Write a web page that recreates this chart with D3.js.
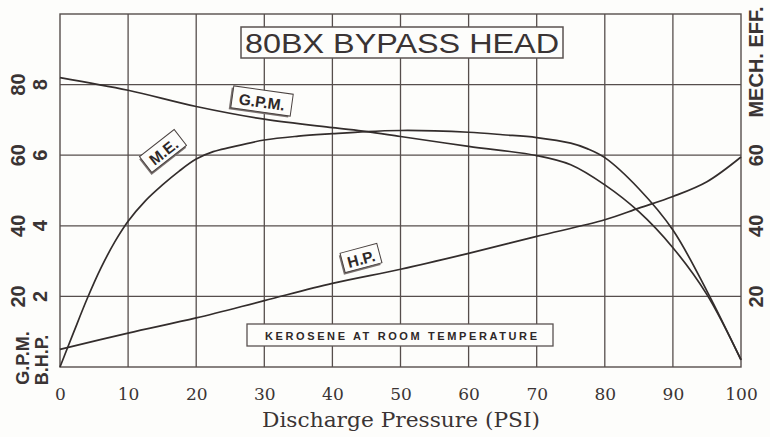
<!DOCTYPE html>
<html>
<head>
<meta charset="utf-8">
<script src="https://cdn.jsdelivr.net/npm/d3@7"></script>
<style>
  html, body { margin: 0; padding: 0; background: #fdfdfb; }
  svg { display: block; }
</style>
</head>
<body>
<script>
// ---------- data ----------
const xTicks = [0, 10, 20, 30, 40, 50, 60, 70, 80, 90, 100];
const leftOuterTicks = [20, 40, 60, 80];   // M.E. scale shown at left
const leftInnerTicks = [2, 4, 6, 8];       // G.P.M. / B.H.P. scale
const rightTicks = [20, 40, 60];

const gpmX = [0, 10, 20, 30, 40, 45, 50, 60, 70, 75, 80, 85, 90, 95, 100];
const gpmY = [8.2, 7.84, 7.38, 7.02, 6.78, 6.67, 6.53, 6.25, 5.99, 5.73, 5.16, 4.4, 3.38, 2.05, 0.2];

const meX = [0, 2, 4, 6, 8, 10, 12.5, 15, 17.5, 20, 22.5, 25, 30, 35, 40, 45, 50, 55, 60, 65, 70, 75, 77.5, 80, 85, 90, 95, 100];
const meY = [0, 9.8, 19.4, 28, 35.3, 41.3, 47, 51.5, 55.5, 58.9, 61, 62.2, 64.3, 65.4, 66.1, 66.7, 67.0, 66.9, 66.5, 65.8, 65.0, 63.4, 61.8, 59.3, 50.5, 38.8, 21.5, 2];

const hpX = [0, 10, 20, 30, 40, 50, 60, 70, 80, 85, 90, 95, 100];
const hpY = [0.5, 0.96, 1.39, 1.88, 2.37, 2.77, 3.22, 3.70, 4.17, 4.5, 4.83, 5.25, 5.95];

const title = "80BX BYPASS HEAD";
const note = "KEROSENE AT ROOM TEMPERATURE";
const xTitle = "Discharge Pressure (PSI)";

// ---------- drawing ----------
const W = 770, H = 437;
const svg = d3.select("body").append("svg").attr("width", W).attr("height", H);

const x = d3.scaleLinear().domain([0, 100]).range([60, 741]);
const yPct = d3.scaleLinear().domain([0, 100]).range([367, 14]);
const yVal = d3.scaleLinear().domain([0, 10]).range([367, 14]);

const gridColor = "#564e4c";
const lineColor = "#332d2c";
const textColor = "#3a3434";

// grid
const g = svg.append("g");
g.selectAll(".vg").data(xTicks.slice(1, -1)).enter().append("line")
  .attr("x1", d => x(d)).attr("x2", d => x(d))
  .attr("y1", yPct(0)).attr("y2", yPct(100))
  .attr("stroke", gridColor).attr("stroke-width", 1.3);
g.selectAll(".hg").data(leftOuterTicks).enter().append("line")
  .attr("x1", x(0)).attr("x2", x(100))
  .attr("y1", d => yPct(d)).attr("y2", d => yPct(d))
  .attr("stroke", gridColor).attr("stroke-width", 1.3);
g.append("rect")
  .attr("x", x(0)).attr("y", yPct(100))
  .attr("width", x(100) - x(0)).attr("height", yPct(0) - yPct(100))
  .attr("fill", "none").attr("stroke", gridColor).attr("stroke-width", 1.4);

// bottom axis labels
const bottomAxis = d3.axisBottom(x).tickValues(xTicks).tickSize(0).tickPadding(0).tickFormat(d3.format("d"));
const ax = svg.append("g").attr("transform", `translate(0, ${yPct(0)})`).call(bottomAxis);
ax.select(".domain").remove();
ax.selectAll("text")
  .attr("y", 33).attr("dy", null)
  .attr("font-family", "'DejaVu Serif', serif")
  .attr("font-size", 17)
  .attr("fill", textColor);

svg.append("text")
  .attr("x", 401).attr("y", 427)
  .attr("text-anchor", "middle")
  .attr("font-family", "'DejaVu Serif', serif")
  .attr("font-size", 20)
  .attr("textLength", 278).attr("lengthAdjust", "spacingAndGlyphs")
  .attr("fill", textColor)
  .text(xTitle);

// rotated side labels
function rotText(sel, px, py, txt, size) {
  sel.append("text")
    .attr("transform", `translate(${px},${py}) rotate(-90)`)
    .attr("text-anchor", "middle")
    .attr("dominant-baseline", "central")
    .attr("font-family", "'Liberation Sans', Arial, sans-serif")
    .attr("font-weight", "bold")
    .attr("font-size", size)
    .attr("fill", textColor)
    .text(txt);
}
leftOuterTicks.forEach(d => rotText(svg, 18, yPct(d), d, 20));
leftInnerTicks.forEach(d => rotText(svg, 40, yVal(d), d, 20));
rotText(svg, 23, 358, "G.P.M.", 18);
rotText(svg, 42, 360, "B.H.P.", 18);
rightTicks.forEach(d => rotText(svg, 756, yPct(d), d, 20));
rotText(svg, 756, 62, "MECH. EFF.", 20);

// curves
const line = d3.line().curve(d3.curveCatmullRom.alpha(0.5));
function drawCurve(xs, ys, yScale) {
  svg.append("path")
    .attr("d", line(xs.map((v, i) => [x(v), yScale(ys[i])])))
    .attr("fill", "none")
    .attr("stroke", lineColor)
    .attr("stroke-width", 1.7);
}
drawCurve(gpmX, gpmY, yVal);
drawCurve(meX, meY, yPct);
drawCurve(hpX, hpY, yVal);

// title box
svg.append("rect")
  .attr("x", 241).attr("y", 27).attr("width", 322).attr("height", 31)
  .attr("fill", "#fdfdfb").attr("stroke", "#5a5250").attr("stroke-width", 1.5);
svg.append("text")
  .attr("x", 402).attr("y", 53)
  .attr("text-anchor", "middle")
  .attr("font-family", "'Liberation Sans', Arial, sans-serif")
  .attr("font-size", 28)
  .attr("textLength", 314).attr("lengthAdjust", "spacingAndGlyphs")
  .attr("fill", "#3a3434")
  .text(title);

// note box
svg.append("rect")
  .attr("x", 247).attr("y", 324).attr("width", 306).attr("height", 22)
  .attr("fill", "#fdfdfb").attr("stroke", "#5a5250").attr("stroke-width", 1.3);
svg.append("text")
  .attr("x", 401).attr("y", 340)
  .attr("text-anchor", "middle")
  .attr("font-family", "'Liberation Sans', Arial, sans-serif")
  .attr("font-weight", "bold")
  .attr("font-size", 11)
  .attr("textLength", 272).attr("lengthAdjust", "spacing")
  .attr("fill", "#2e2828")
  .text(note);

// curve labels with shadowed boxes
function tag(cx, cy, angle, w, h, txt, size) {
  const t = svg.append("g").attr("transform", `translate(${cx},${cy}) rotate(${angle})`);
  t.append("rect").attr("x", -w / 2 - 1.8).attr("y", -h / 2 + 1.8).attr("width", w).attr("height", h)
    .attr("fill", "#7a7270");
  t.append("rect").attr("x", -w / 2).attr("y", -h / 2).attr("width", w).attr("height", h)
    .attr("fill", "#fdfdfb").attr("stroke", "#4a4240").attr("stroke-width", 1);
  t.append("text").attr("x", 0).attr("y", 1)
    .attr("text-anchor", "middle").attr("dominant-baseline", "central")
    .attr("font-family", "'Liberation Sans', Arial, sans-serif")
    .attr("font-weight", "bold").attr("font-size", size)
    .attr("fill", "#2e2828")
    .text(txt);
}
tag(262, 101, 8, 60, 22, "G.P.M.", 15.5);
tag(163, 151, -38, 44, 20, "M.E.", 15.5);
tag(361, 258, -15, 38, 20, "H.P.", 15.5);
</script>
</body>
</html>
